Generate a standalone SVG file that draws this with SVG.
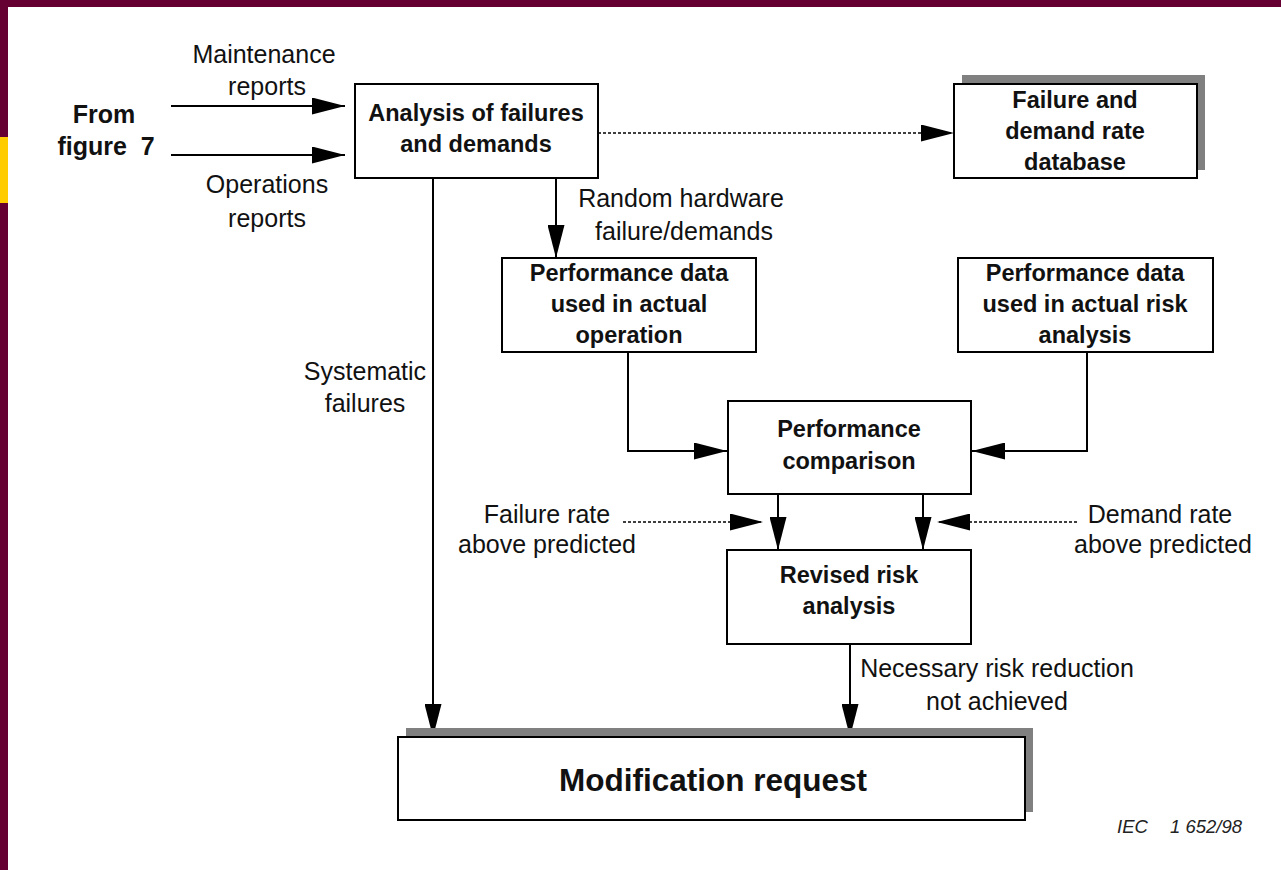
<svg xmlns="http://www.w3.org/2000/svg" width="1281" height="870" viewBox="0 0 1281 870">
  <style>
    .box { fill: #ffffff; stroke: #000000; stroke-width: 2; }
    .shadow { fill: #808080; }
    .line { fill: none; stroke: #000000; stroke-width: 2; }
    .dot { fill: none; stroke: #000000; stroke-width: 1.6; stroke-dasharray: 3 2; }
    .bt { font-family: "Liberation Sans", Arial, sans-serif; font-weight: bold; font-size: 23.5px; fill: #111111; text-anchor: middle; }
    .lt { font-family: "Liberation Sans", Arial, sans-serif; font-size: 25px; fill: #111111; text-anchor: middle; }
    .cap { font-family: "Liberation Sans", Arial, sans-serif; font-style: italic; font-size: 18.5px; fill: #222222; }
  </style>
  <defs>
    <marker id="arrow" viewBox="0 0 33 17" refX="33" refY="8.5" markerWidth="33" markerHeight="17" markerUnits="userSpaceOnUse" orient="auto">
      <path d="M0,0 L33,8.5 L0,17 Z" fill="#000000"/>
    </marker>
  </defs>

  <!-- page frame -->
  <rect x="0" y="0" width="1281" height="870" fill="#660033"/>
  <rect x="0" y="137" width="8" height="66" fill="#ffcc00"/>
  <rect x="8" y="7" width="1273" height="863" fill="#ffffff"/>

  <!-- connectors -->
  <g id="connectors">
    <line class="line" x1="171" y1="106" x2="345" y2="106" marker-end="url(#arrow)"/>
    <line class="line" x1="171" y1="155" x2="345" y2="155" marker-end="url(#arrow)"/>
    <line class="dot" x1="598" y1="133" x2="954" y2="133" marker-end="url(#arrow)"/>
    <line class="line" x1="556" y1="178" x2="556" y2="258" marker-end="url(#arrow)"/>
    <line class="line" x1="433" y1="178" x2="433" y2="737" marker-end="url(#arrow)"/>
    <polyline class="line" points="628,352 628,451 727,451" marker-end="url(#arrow)"/>
    <polyline class="line" points="1087,352 1087,451 972,451" marker-end="url(#arrow)"/>
    <line class="line" x1="778" y1="494" x2="778" y2="550" marker-end="url(#arrow)"/>
    <line class="line" x1="923" y1="494" x2="923" y2="550" marker-end="url(#arrow)"/>
    <line class="dot" x1="623" y1="522" x2="763" y2="522" marker-end="url(#arrow)"/>
    <line class="dot" x1="1077" y1="522" x2="937" y2="522" marker-end="url(#arrow)"/>
    <line class="line" x1="850" y1="644" x2="850" y2="737" marker-end="url(#arrow)"/>

    <text class="lt" x="264" y="63">Maintenance</text>
    <text class="lt" x="267" y="95">reports</text>
    <text class="lt" x="267" y="193">Operations</text>
    <text class="lt" x="267" y="227">reports</text>
    <text class="lt" x="681" y="207">Random hardware</text>
    <text class="lt" x="684" y="240">failure/demands</text>
    <text class="lt" x="365" y="380">Systematic</text>
    <text class="lt" x="365" y="412">failures</text>
    <text class="lt" x="547" y="523">Failure rate</text>
    <text class="lt" x="547" y="553">above predicted</text>
    <text class="lt" x="1160" y="523">Demand rate</text>
    <text class="lt" x="1163" y="553">above predicted</text>
    <text class="lt" x="997" y="677">Necessary risk reduction</text>
    <text class="lt" x="997" y="710">not achieved</text>
  </g>

  <!-- source label -->
  <g id="from-figure-7">
    <text class="bt" x="104" y="123" style="font-size:25px">From</text>
    <text class="bt" x="106" y="155" style="font-size:25px" xml:space="preserve">figure  7</text>
  </g>

  <g id="analysis">
    <rect class="box" x="355" y="84" width="243" height="94"/>
    <text class="bt" x="476" y="121">Analysis of failures</text>
    <text class="bt" x="476" y="152">and demands</text>
  </g>

  <g id="database">
    <rect class="shadow" x="962" y="75" width="243" height="95"/>
    <rect class="box" x="954" y="84" width="243" height="94"/>
    <text class="bt" x="1075" y="108">Failure and</text>
    <text class="bt" x="1075" y="139">demand rate</text>
    <text class="bt" x="1075" y="170">database</text>
  </g>

  <g id="perf-operation">
    <rect class="box" x="502" y="258" width="254" height="94"/>
    <text class="bt" x="629" y="281">Performance data</text>
    <text class="bt" x="629" y="312">used in actual</text>
    <text class="bt" x="629" y="343">operation</text>
  </g>

  <g id="perf-risk-analysis">
    <rect class="box" x="958" y="258" width="255" height="94"/>
    <text class="bt" x="1085" y="281">Performance data</text>
    <text class="bt" x="1085" y="312">used in actual risk</text>
    <text class="bt" x="1085" y="343">analysis</text>
  </g>

  <g id="perf-comparison">
    <rect class="box" x="728" y="401" width="243" height="93"/>
    <text class="bt" x="849" y="437">Performance</text>
    <text class="bt" x="849" y="469">comparison</text>
  </g>

  <g id="revised-risk">
    <rect class="box" x="727" y="550" width="244" height="94"/>
    <text class="bt" x="849" y="583">Revised risk</text>
    <text class="bt" x="849" y="614">analysis</text>
  </g>

  <g id="modification-request">
    <rect class="shadow" x="406" y="728" width="627" height="84"/>
    <rect class="box" x="398" y="737" width="627" height="83"/>
    <text class="bt" x="713" y="791" style="font-size:31.5px">Modification request</text>
  </g>

  <g id="caption">
    <text class="cap" x="1117" y="833">IEC</text>
    <text class="cap" x="1170" y="833">1 652/98</text>
  </g>
</svg>
